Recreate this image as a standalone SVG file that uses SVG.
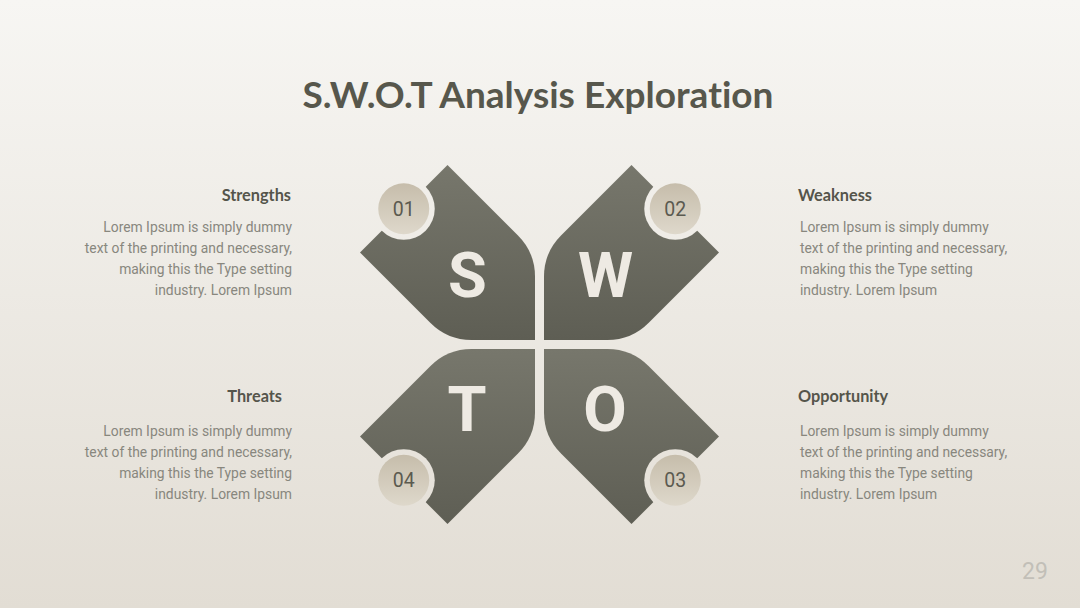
<svg xmlns="http://www.w3.org/2000/svg" width="1080" height="608" viewBox="0 0 1080 608">
<defs>
<linearGradient id="bg" x1="0" y1="0" x2="0" y2="1">
<stop offset="0" stop-color="#f7f6f3"/>
<stop offset="1" stop-color="#e2ddd4"/>
</linearGradient>
<linearGradient id="piece" x1="0" y1="0" x2="0" y2="1">
<stop offset="0" stop-color="#77776c"/>
<stop offset="1" stop-color="#5e5e54"/>
</linearGradient>
<linearGradient id="badge" x1="0" y1="0" x2="0" y2="1">
<stop offset="0" stop-color="#c6bdab"/>
<stop offset="1" stop-color="#ded8cb"/>
</linearGradient>
<mask id="cut" maskUnits="userSpaceOnUse" x="0" y="0" width="1080" height="608">
<rect x="0" y="0" width="1080" height="608" fill="#fff"/>
<circle cx="403.75" cy="208.75" r="31" fill="#000"/>
<circle cx="675.25" cy="208.75" r="31" fill="#000"/>
<circle cx="675.25" cy="480.25" r="31" fill="#000"/>
<circle cx="403.75" cy="480.25" r="31" fill="#000"/>
</mask>
<style>
.title{font-family:Lato,"Open Sans",sans-serif;font-weight:700;font-size:36px;fill:#57574c;font-variant-ligatures:none;font-feature-settings:"liga" 0}
.piece{fill:url(#piece)}
.letter{font-family:Roboto,"Liberation Sans",sans-serif;font-weight:700;font-size:63px;fill:#eeeae3;text-anchor:middle}
.badge{fill:url(#badge)}
.num{font-family:Roboto,"Liberation Sans",sans-serif;font-size:19.5px;fill:#5b5a50;text-anchor:middle}
.head{font-family:Lato,"Open Sans",sans-serif;font-weight:700;font-size:16.3px;fill:#55554b}
.body{font-family:Roboto,"Liberation Sans",sans-serif;font-size:13.85px;fill:#88877e}
.r{text-anchor:end}
.page{font-family:Roboto,"Liberation Sans",sans-serif;font-size:23px;fill:#c2bfb8;text-anchor:middle}
</style>
</defs>
<rect x="0" y="0" width="1080" height="608" fill="url(#bg)"/>
<text id="title" class="title" x="538" y="108" text-anchor="middle" textLength="471" lengthAdjust="spacingAndGlyphs">S.W.O.T Analysis Exploration</text>
<g id="connectors"/>
<g id="node-s">
<path class="piece" mask="url(#cut)" d="M447.5,165 L518,235.5 Q535,252.5 535,276.5 L535,340 L471.5,340 Q447.5,340 430.5,323 L360,252.5 Z"/>
<text class="letter" x="467.5" y="297">S</text>
<circle class="badge" cx="403.75" cy="208.75" r="25.5"/>
<text class="num" x="403.75" y="215.7">01</text>
<text class="head r" x="291" y="201">Strengths</text>
<text class="body r"><tspan x="292" y="232">Lorem Ipsum is simply dummy</tspan><tspan x="292" y="253">text of the printing and necessary,</tspan><tspan x="292" y="274">making this the Type setting</tspan><tspan x="292" y="295">industry. Lorem Ipsum</tspan></text>
</g>
<g id="node-w">
<path class="piece" mask="url(#cut)" d="M631.5,165 L561,235.5 Q544,252.5 544,276.5 L544,340 L607.5,340 Q631.5,340 648.5,323 L719,252.5 Z"/>
<text class="letter" x="605.5" y="297">W</text>
<circle class="badge" cx="675.25" cy="208.75" r="25.5"/>
<text class="num" x="675.25" y="215.7">02</text>
<text class="head" x="798" y="201">Weakness</text>
<text class="body"><tspan x="800" y="232">Lorem Ipsum is simply dummy</tspan><tspan x="800" y="253">text of the printing and necessary,</tspan><tspan x="800" y="274">making this the Type setting</tspan><tspan x="800" y="295">industry. Lorem Ipsum</tspan></text>
</g>
<g id="node-o">
<path class="piece" mask="url(#cut)" d="M631.5,524 L561,453.5 Q544,436.5 544,412.5 L544,349 L607.5,349 Q631.5,349 648.5,366 L719,436.5 Z"/>
<text class="letter" x="605" y="431">O</text>
<circle class="badge" cx="675.25" cy="480.25" r="25.5"/>
<text class="num" x="675.25" y="487.2">03</text>
<text class="head" x="798" y="402">Opportunity</text>
<text class="body"><tspan x="800" y="436">Lorem Ipsum is simply dummy</tspan><tspan x="800" y="457">text of the printing and necessary,</tspan><tspan x="800" y="478">making this the Type setting</tspan><tspan x="800" y="499">industry. Lorem Ipsum</tspan></text>
</g>
<g id="node-t">
<path class="piece" mask="url(#cut)" d="M447.5,524 L518,453.5 Q535,436.5 535,412.5 L535,349 L471.5,349 Q447.5,349 430.5,366 L360,436.5 Z"/>
<text class="letter" x="467" y="431">T</text>
<circle class="badge" cx="403.75" cy="480.25" r="25.5"/>
<text class="num" x="403.75" y="487.2">04</text>
<text class="head r" x="282" y="402">Threats</text>
<text class="body r"><tspan x="292" y="436">Lorem Ipsum is simply dummy</tspan><tspan x="292" y="457">text of the printing and necessary,</tspan><tspan x="292" y="478">making this the Type setting</tspan><tspan x="292" y="499">industry. Lorem Ipsum</tspan></text>
</g>
<text id="page-number" class="page" x="1035" y="579">29</text>
</svg>
